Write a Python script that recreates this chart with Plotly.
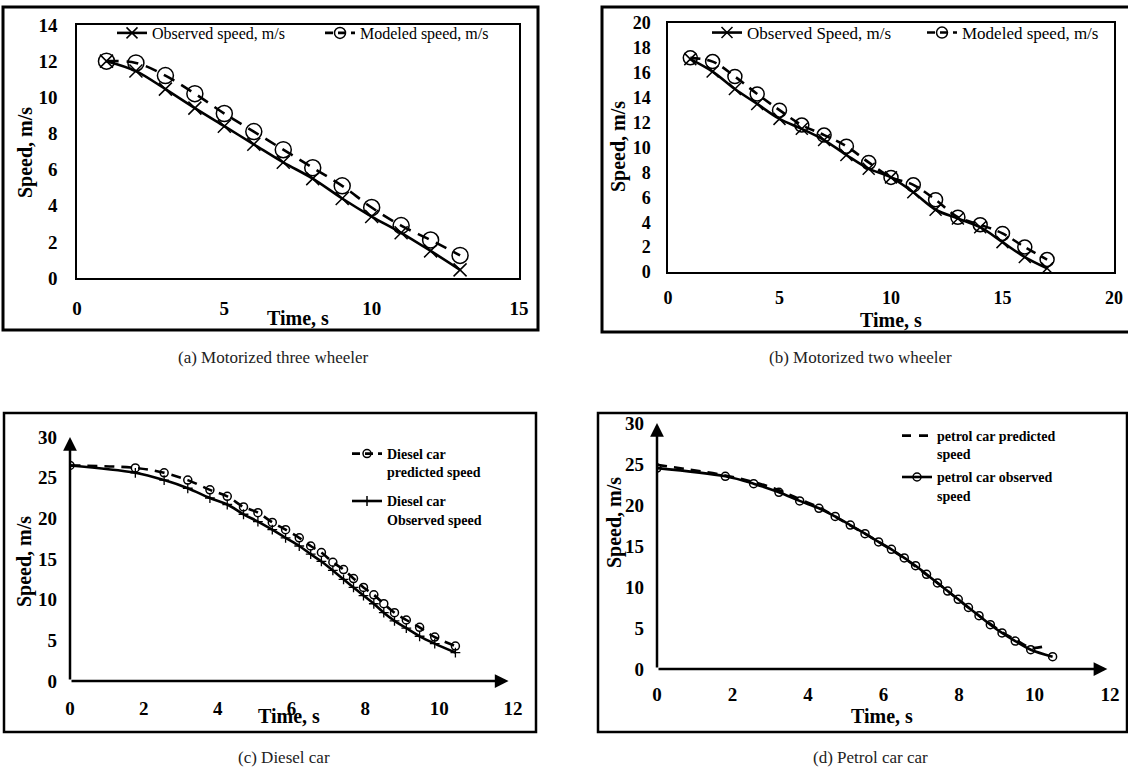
import plotly.graph_objects as go

# ---- data -------------------------------------------------------------
# (a) motorized three wheeler
a_time = [1, 2, 3, 4, 5, 6, 7, 8, 9, 10, 11, 12, 13]
a_observed = [12.0, 11.45, 10.45, 9.4, 8.4, 7.4, 6.4, 5.5, 4.4, 3.4, 2.5, 1.5, 0.45]
a_modeled = [12.0, 11.9, 11.2, 10.2, 9.1, 8.1, 7.1, 6.1, 5.1, 3.9, 2.9, 2.1, 1.25]

# (b) motorized two wheeler
b_time = [1, 2, 3, 4, 5, 6, 7, 8, 9, 10, 11, 12, 13, 14, 15, 16, 17]
b_observed = [17.1, 16.1, 14.7, 13.5, 12.3, 11.5, 10.6, 9.4, 8.3, 7.6, 6.4, 5.0,
              4.3, 3.6, 2.4, 1.2, 0.3]
b_modeled = [17.2, 16.9, 15.7, 14.3, 13.0, 11.8, 11.0, 10.1, 8.8, 7.6, 7.0, 5.8,
             4.4, 3.8, 3.1, 2.0, 1.0]

# (c) diesel car
c_time = [0, 1.77, 2.55, 3.19, 3.79, 4.26, 4.70, 5.09, 5.48, 5.84, 6.21, 6.52,
          6.81, 7.12, 7.41, 7.68, 7.95, 8.23, 8.50, 8.79, 9.11, 9.47, 9.88, 10.44]
c_predicted = [26.5, 26.2, 25.6, 24.7, 23.5, 22.7, 21.4, 20.7, 19.5, 18.6, 17.6,
               16.6, 15.8, 14.6, 13.7, 12.6, 11.5, 10.6, 9.5, 8.4, 7.5, 6.6, 5.4, 4.3]
c_observed = [26.5, 25.6, 24.7, 23.7, 22.5, 21.7, 20.5, 19.6, 18.6, 17.6, 16.6,
              15.6, 14.7, 13.6, 12.5, 11.5, 10.5, 9.5, 8.4, 7.4, 6.5, 5.5, 4.6, 3.5]

# (d) petrol car
d_time = [0, 1.81, 2.56, 3.23, 3.78, 4.29, 4.72, 5.12, 5.51, 5.87, 6.21, 6.55,
          6.85, 7.14, 7.43, 7.70, 7.98, 8.25, 8.53, 8.83, 9.14, 9.49, 9.90, 10.48]
d_observed = [24.5, 23.5, 22.6, 21.55, 20.5, 19.6, 18.6, 17.55, 16.5, 15.5, 14.6,
              13.55, 12.6, 11.55, 10.5, 9.5, 8.5, 7.5, 6.5, 5.4, 4.4, 3.4, 2.35, 1.5]
d_pred_time = [0, 1.81, 2.56, 3.23, 3.78, 4.29, 4.72, 5.12, 5.51, 5.87, 6.21, 6.55,
               6.85, 7.14, 7.43, 7.70, 7.98, 8.25, 8.53, 8.83, 9.14, 9.49, 9.90, 10.2]
d_predicted = [24.9, 23.6, 22.8, 21.8, 20.7, 19.7, 18.6, 17.5, 16.5, 15.5, 14.5,
               13.5, 12.5, 11.5, 10.5, 9.5, 8.5, 7.5, 6.5, 5.5, 4.5, 3.6, 2.6, 2.7]

captions = ["(a) Motorized three wheeler", "(b) Motorized two wheeler",
            "(c) Diesel car", "(d) Petrol car car"]

# ---- layout helpers ---------------------------------------------------
W, H = 1128, 778
SERIF = "Liberation Serif, Times New Roman, serif"
BLACK = "#000000"
LW = 2.6


def fx(p):
    return p / W


def fy(p):
    return 1 - p / H


fig = go.Figure()


def series(x, y, xa, ya, dash=None, symbol=None, size=8, mwidth=1.5):
    """One smoothed speed curve, drawn without its own legend entry."""
    line = dict(color=BLACK, width=LW, shape="spline")
    if dash:
        line["dash"] = dash
    kw = dict(x=x, y=y, xaxis=xa, yaxis=ya, line=line, showlegend=False,
              mode="lines+markers" if symbol else "lines")
    if symbol:
        kw["marker"] = dict(symbol=symbol, size=size, color=BLACK,
                            line=dict(color=BLACK, width=mwidth))
    fig.add_trace(go.Scatter(**kw))


def key(name, legend, xa, ya, dash=None, symbol=None, size=8, group=None):
    """Legend-only entry (no data points)."""
    line = dict(color=BLACK, width=LW)
    if dash:
        line["dash"] = dash
    kw = dict(x=[None], y=[None], xaxis=xa, yaxis=ya, name=name, legend=legend,
              line=line, mode="lines+markers" if symbol else "lines")
    if group:
        kw["legendgroup"] = group
    if symbol:
        kw["marker"] = dict(symbol=symbol, size=size, color=BLACK,
                            line=dict(color=BLACK, width=1.5))
    fig.add_trace(go.Scatter(**kw))


# (a)
series(a_time, a_observed, "x", "y", symbol="x-thin-open", size=13)
series(a_time, a_modeled, "x", "y", dash="12px,8px", symbol="circle-open", size=16)
key("Observed speed, m/s", "legend", "x", "y", symbol="x-thin-open", size=11)
key("Modeled speed, m/s", "legend", "x", "y", dash="8px,5px", symbol="circle-open", size=11)

# (b)
series(b_time, b_observed, "x2", "y2", symbol="x-thin-open", size=12)
series(b_time, b_modeled, "x2", "y2", dash="10px,7px", symbol="circle-open", size=14)
key("Observed Speed, m/s", "legend2", "x2", "y2", symbol="x-thin-open", size=11)
key("Modeled speed, m/s", "legend2", "x2", "y2", dash="8px,5px", symbol="circle-open", size=11)

# (c)
series(c_time, c_predicted, "x3", "y3", dash="10px,7px", symbol="circle-open", size=8)
series(c_time, c_observed, "x3", "y3", symbol="cross-thin-open", size=7, mwidth=1.3)
key("Diesel car<br>predicted speed", "legend3", "x3", "y3", dash="8px,5px",
    symbol="circle-open", size=8, group="c1")
key("Diesel car<br>Observed speed", "legend3", "x3", "y3",
    symbol="cross-thin-open", size=7, group="c2")

# (d)
series(d_pred_time, d_predicted, "x4", "y4", dash="10px,7px")
series(d_time, d_observed, "x4", "y4", symbol="circle-open", size=8)
key("petrol car predicted<br>speed", "legend4", "x4", "y4", dash="9px,8px", group="d1")
key("petrol car observed<br>speed", "legend4", "x4", "y4", symbol="circle-open",
    size=8, group="d2")


def axis(dom, rng, dtick, size, boxed, standoff, anchor=None):
    ax = dict(
        domain=dom, range=rng, dtick=dtick, tick0=0,
        showgrid=False, zeroline=False, ticks="",
        showline=boxed, mirror=boxed, linecolor=BLACK, linewidth=1.5,
        tickfont=dict(family=SERIF, size=size, color=BLACK, weight="bold"),
        ticklabelstandoff=standoff, fixedrange=True,
    )
    if anchor:
        ax["anchor"] = anchor
    return ax


layout = dict(
    width=W, height=H, margin=dict(l=0, r=0, t=0, b=0, autoexpand=False),
    paper_bgcolor="white", plot_bgcolor="white",
    xaxis=axis([fx(77), fx(519)], [0, 15], 5, 19, True, 12),
    yaxis=axis([fy(278), fy(25)], [0, 14], 2, 19, True, 14),
    xaxis2=axis([fx(668), fx(1114)], [0, 20], 5, 18, True, 9, "y2"),
    yaxis2=axis([fy(272), fy(23)], [0, 20], 2, 18, True, 12, "x2"),
    xaxis3=axis([fx(70), fx(513)], [0, 12], 2, 19, False, 14, "y3"),
    yaxis3=axis([fy(681), fy(437)], [0, 30], 5, 19, False, 12, "x3"),
    xaxis4=axis([fx(657), fx(1110)], [0, 12], 2, 19, False, 12, "y4"),
    yaxis4=axis([fy(669), fy(423)], [0, 30], 5, 19, False, 12, "x4"),
)

legend_common = dict(bgcolor="rgba(0,0,0,0)", borderwidth=0, itemwidth=30)
layout["legend"] = dict(
    **legend_common, orientation="h", x=fx(112), y=fy(33), xanchor="left", yanchor="middle",
    font=dict(family=SERIF, size=16, color=BLACK), entrywidth=163)
layout["legend2"] = dict(
    **legend_common, orientation="h", x=fx(707), y=fy(33), xanchor="left", yanchor="middle",
    font=dict(family=SERIF, size=17, color=BLACK), entrywidth=170)
layout["legend3"] = dict(
    **legend_common, x=fx(347), y=fy(438), xanchor="left", yanchor="top",
    font=dict(family=SERIF, size=14, color=BLACK, weight="bold"),
    valign="top", tracegroupgap=8, traceorder="grouped")
layout["legend4"] = dict(
    **legend_common, x=fx(897), y=fy(420), xanchor="left", yanchor="top",
    font=dict(family=SERIF, size=14, color=BLACK, weight="bold"),
    valign="top", tracegroupgap=2, traceorder="grouped")

fig.update_layout(**layout)

# outer frames around each panel
frames = [(3, 7, 538, 330, 3), (602, 7, 1132, 332, 3),
          (4, 413, 536, 732, 2.5), (598, 413, 1127, 732, 2.5)]
for x0, y0, x1, y1, w in frames:
    fig.add_shape(type="rect", xref="paper", yref="paper",
                  x0=fx(x0), x1=fx(x1), y0=fy(y1), y1=fy(y0),
                  line=dict(color=BLACK, width=w), fillcolor="rgba(0,0,0,0)", layer="above")

# arrowed axes on the car panels
for xa, ya, xtip, ytip in [("x3", "y3", 11.88, 30.0), ("x4", "y4", 11.93, 30.0)]:
    fig.add_annotation(x=xtip, y=0, ax=0, ay=0, xref=xa, yref=ya, axref=xa, ayref=ya,
                       text="", showarrow=True, arrowhead=2, arrowsize=1.1,
                       arrowwidth=2.5, arrowcolor=BLACK, standoff=0)
    fig.add_annotation(x=0, y=ytip, ax=0, ay=0, xref=xa, yref=ya, axref=xa, ayref=ya,
                       text="", showarrow=True, arrowhead=2, arrowsize=1.1,
                       arrowwidth=2.5, arrowcolor=BLACK, standoff=0)

# axis titles
title_font = dict(family=SERIF, size=20, color=BLACK, weight="bold")
for cx, cy in [(298, 318), (891, 320), (289, 716), (882, 716)]:
    fig.add_annotation(x=fx(cx), y=fy(cy), xref="paper", yref="paper", text="Time, s",
                       showarrow=False, font=title_font, xanchor="center", yanchor="middle")
for cx, cy in [(25, 153), (618, 147), (24, 562), (614, 523)]:
    fig.add_annotation(x=fx(cx), y=fy(cy), xref="paper", yref="paper", text="Speed, m/s",
                       showarrow=False, font=title_font, textangle=-90,
                       xanchor="center", yanchor="middle")

# captions
cap_font = dict(family=SERIF, size=17, color="#222222")
for text, cx, cy in zip(captions, [273, 860, 284, 870], [357, 357, 757, 757]):
    fig.add_annotation(x=fx(cx), y=fy(cy), xref="paper", yref="paper", text=text,
                       showarrow=False, font=cap_font, xanchor="center", yanchor="middle")

fig.write_html("out.html")
